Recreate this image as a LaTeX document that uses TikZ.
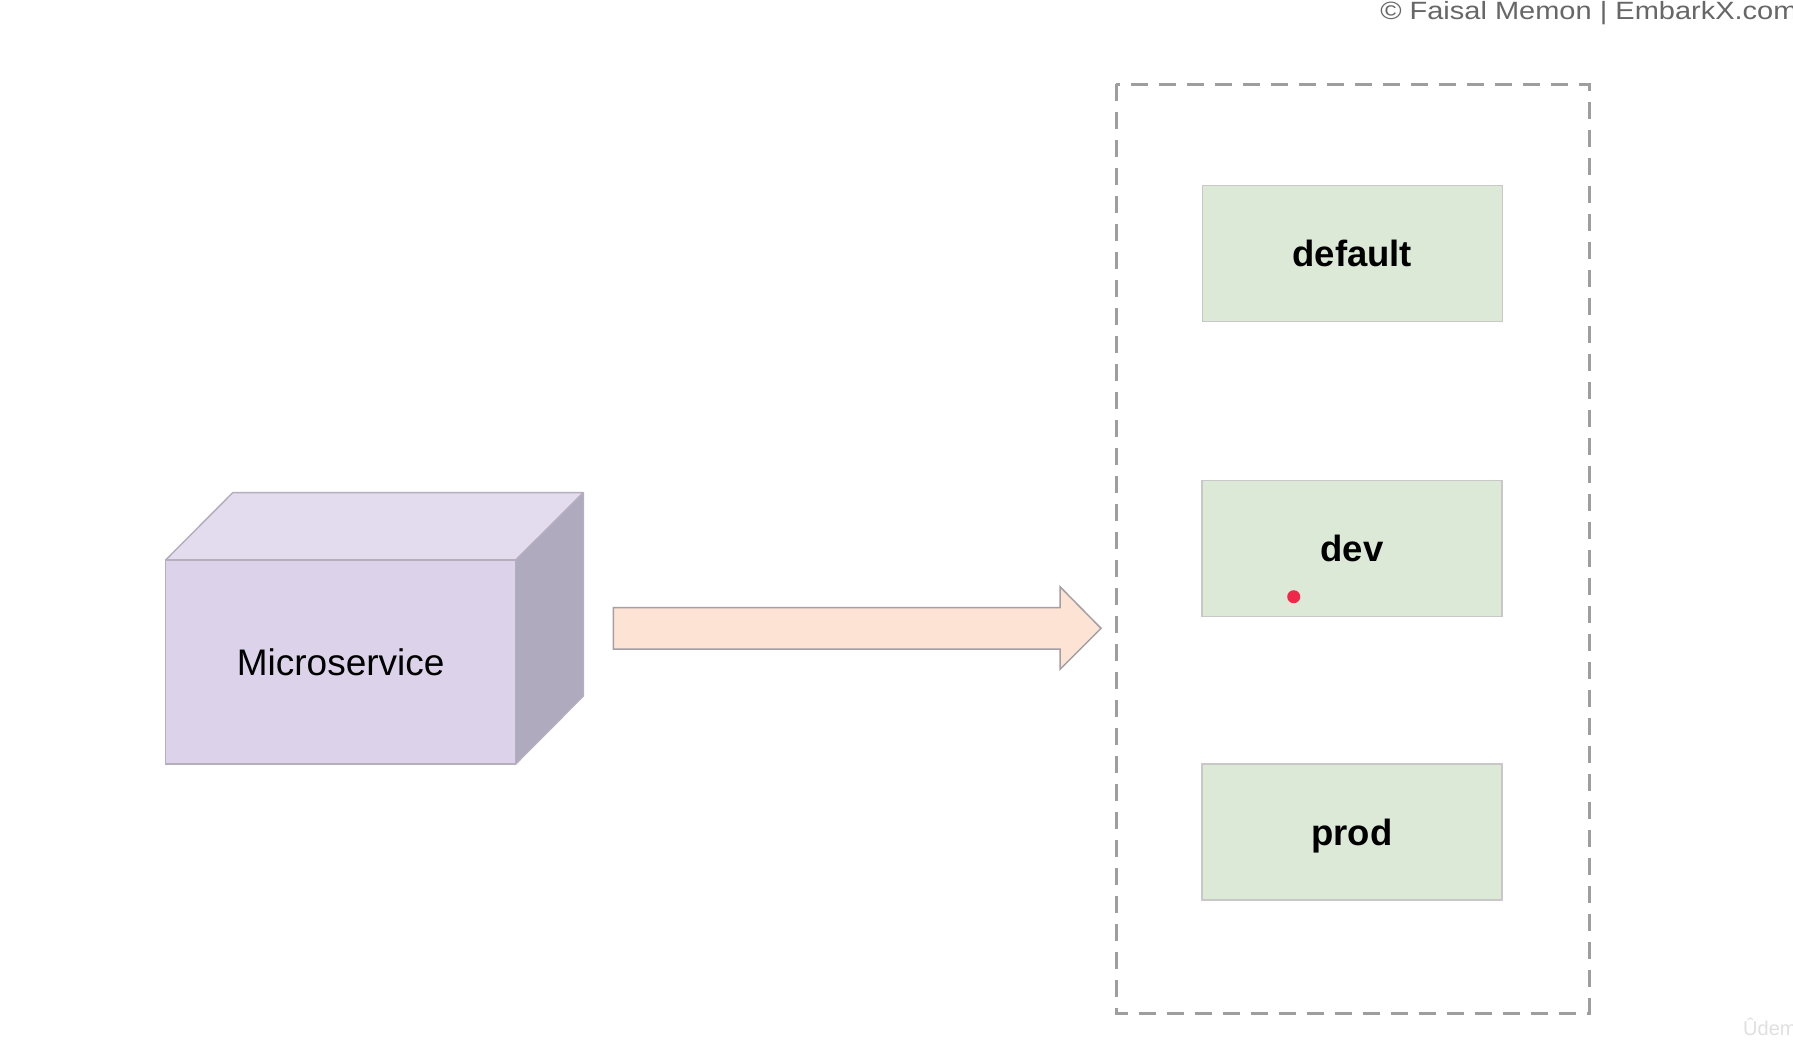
\documentclass[tikz,border=0pt]{standalone}
\usepackage{fontspec}
\setmainfont{Liberation Sans}
\definecolor{cubefront}{HTML}{DCD3EA}
\definecolor{cubetop}{HTML}{E3DCEE}
\definecolor{cubeside}{HTML}{B0AABE}
\definecolor{cubeline}{HTML}{B5AEBC}
\definecolor{arrowfill}{HTML}{FDE3D3}
\definecolor{arrowline}{HTML}{A39FA5}
\definecolor{envfill}{HTML}{DCE9D6}
\definecolor{envline}{HTML}{C8C8C8}
\definecolor{dashgray}{HTML}{9E9E9E}
\definecolor{credit}{HTML}{676767}
\definecolor{dotred}{HTML}{F0284A}
\tikzset{
  envbox/.style={draw=envline, line width=1.5pt, fill=envfill, minimum width=300pt, minimum height=136pt,
    inner sep=0pt, text height=26pt, text depth=0pt, font=\fontsize{36.5}{40}\selectfont\bfseries},
  cubeface/.style={draw=cubeline, line width=1.5pt, line join=round},
}
\begin{document}
\begin{tikzpicture}[x=1pt,y=-1pt]
\useasboundingbox (0,0) rectangle (1793,1039);
\fill[white] (0,0) rectangle (1793,1039);
\clip (0,0) rectangle (1793,1039);

% credit
\node[anchor=base west, inner sep=0pt, xscale=1.16, text=credit, font=\fontsize{25}{28}\selectfont] (credit) at (1380,19.5) {© Faisal Memon | EmbarkX.com};

% cube
\fill[cubetop] (165.7,560) -- (232.7,492.7) -- (583.3,492.7) -- (515.7,560) -- cycle;
\fill[cubeside] (515.7,560) -- (583.3,492.7) -- (583.3,696) -- (515.7,764) -- cycle;
\draw[cubeface] (165.7,560) -- (232.7,492.7) -- (583.3,492.7) -- (515.7,560);
\draw[cubeface] (583.3,492.7) -- (583.3,696) -- (515.7,764);
\node[draw=cubeline, line width=1.5pt, fill=cubefront, minimum width=350pt, minimum height=204pt,
  inner sep=0pt, text height=27.7pt, text depth=0pt, font=\fontsize{37}{42}\selectfont] (micro) at (340.7,662) {Microservice};

% block arrow
\draw[draw=arrowline, fill=arrowfill, line width=1.5pt, line join=miter]
  (613.3,607.7) -- (1060,607.7) -- (1060,586.7) -- (1101,628.3) -- (1060,669.3) -- (1060,649) -- (613.3,649) -- cycle;

% dashed container
\draw[dashgray, line width=3pt, dash pattern=on 17pt off 11pt] (1116,84) rectangle (1589,1013);
\coordinate (container) at (1352.5,548.5);

% environment boxes
\node[envbox] (default) at (1352.3,253.5) {default};
\node[envbox] (dev) at (1352,548.7) {dev};
\node[envbox] (prod) at (1352,832) {prod};

% pointer dot
\fill[dotred] (1293.7,596.7) circle (6.5pt);

% watermark
\node[anchor=base west, inner sep=0pt, text=black!12, font=\fontsize{20}{24}\selectfont] (udemy) at (1743,1035) {Ûdemy};
\end{tikzpicture}
\end{document}
